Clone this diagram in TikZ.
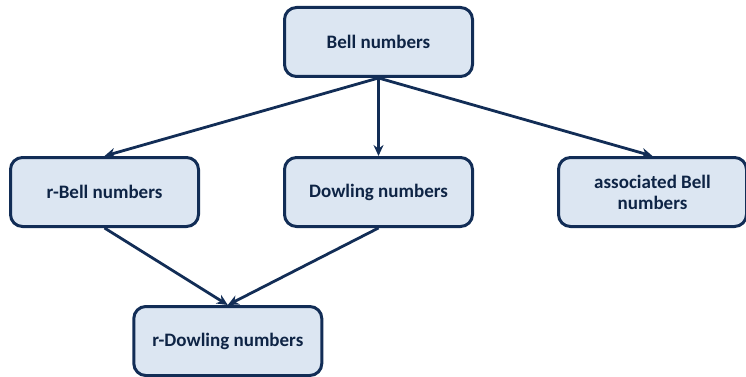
\documentclass[tikz,border=0pt]{standalone}
\usepackage{fontspec}
\setmainfont{Carlito}
\usetikzlibrary{arrows.meta,positioning,calc}
\definecolor{NumNavy}{RGB}{18,45,86}
\definecolor{NumFill}{RGB}{220,230,242}

\begin{document}
\begin{tikzpicture}[
    node distance=78pt and 83pt,
    numbox/.style={draw=NumNavy, fill=NumFill, line width=3pt, rounded corners=12pt,
      minimum width=188pt, minimum height=69pt, font=\fontsize{19}{21}\selectfont\bfseries,
      text=NumNavy!80!black, align=center},
    arr/.style={-{Stealth[length=11pt,width=10pt]}, line width=2.8pt, draw=NumNavy}
  ]
    \useasboundingbox (0pt,0pt) rectangle (746pt,-377pt);
    \node[numbox] (bell) at (378.5pt,-42pt) {Bell numbers};
    \node[numbox, below=of bell] (dowling) {Dowling numbers};
    \node[numbox, left=of dowling] (rbell) {r-Bell numbers};
    \node[numbox, right=of dowling] (assoc) {associated Bell\\numbers};
    \node[numbox, below=77pt of $(rbell.south)!0.45!(dowling.south)$] (rdowling) {r-Dowling numbers};

    \draw[arr] (bell.south) -- (rbell.north);
    \draw[arr] (bell.south) -- (dowling.north);
    \draw[arr] (bell.south) -- (assoc.north);
    \draw[arr] (rbell.south) -- (rdowling.north);
    \draw[arr] (dowling.south) -- (rdowling.north);
  \end{tikzpicture}
\end{document}
